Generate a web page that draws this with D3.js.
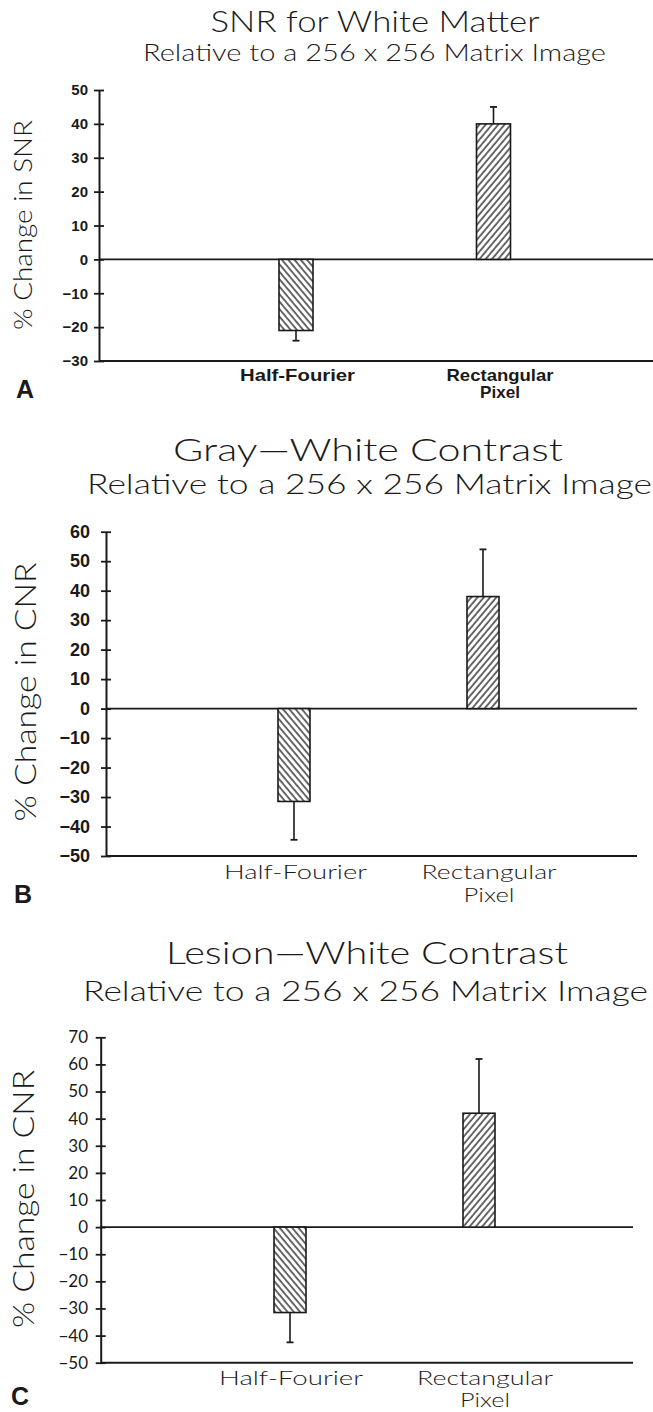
<!DOCTYPE html>
<html>
<head>
<meta charset="utf-8">
<script src="https://cdn.jsdelivr.net/npm/d3@7"></script>
<style>
  body { margin: 0; background: #fff; }
  svg { display: block; }
</style>
</head>
<body>
<script>
'use strict';

(function() {

  // categories shared by the three panels
  const categories = ["Half-Fourier", "Rectangular Pixel"];

  // panel titles
  const titles = ["SNR for White Matter", "Gray\u2014White Contrast", "Lesion\u2014White Contrast"];
  const subtitle = "Relative to a 256 x 256 Matrix Image";
  const yLabels = ["% Change in SNR", "% Change in CNR", "% Change in CNR"];
  const letters = ["A", "B", "C"];

  // bar values (% change) and error bars
  const snrValues = [-21, 40];
  const snrErrors = [3, 5];
  const grayValues = [-31.5, 38];
  const grayErrors = [13, 16];
  const lesionValues = [-31.5, 42];
  const lesionErrors = [11, 20];

  // tick labels on each y axis
  const snrTicks = [-30, -20, -10, 0, 10, 20, 30, 40, 50];
  const grayTicks = [-50, -40, -30, -20, -10, 0, 10, 20, 30, 40, 50, 60];
  const lesionTicks = [-50, -40, -30, -20, -10, 0, 10, 20, 30, 40, 50, 60, 70];

  const titleFont = "Lato, 'DejaVu Sans', sans-serif";
  const boldFont = "'Liberation Sans', Arial, sans-serif";

  // page layout for each panel (positions only, no data)
  const layouts = [
    { top: 90, bottom: 361, left: 99, right: 653, xs: [296, 493.5], barWidth: 34,
      title: { cx: 375, y: 31.7, size: 29, len: 329 },
      sub: { cx: 374.5, y: 60.7, size: 24, len: 463 },
      tick: { size: 15, bold: true, gap: 11 },
      cat: { size: 17, bold: true, y: 381, y2: 398, lens: [115, 107, 40], dx: [1.5, 6.5] },
      ylab: { x: 32, cy: 225, size: 26, len: 210 },
      letter: { x: 16, y: 398 } },
    { top: 531.7, bottom: 856, left: 106, right: 637, xs: [294, 483], barWidth: 32,
      title: { cx: 368, y: 461, size: 32, len: 390 },
      sub: { cx: 369.5, y: 494, size: 28, len: 565 },
      tick: { size: 18, bold: true, gap: 16 },
      cat: { size: 20, bold: false, y: 878.5, y2: 901.5, lens: [143, 135, 51], dx: [1.5, 6] },
      ylab: { x: 36, cy: 692, size: 29, len: 259 },
      letter: { x: 14, y: 903 } },
    { top: 1037.3, bottom: 1362.7, left: 100.7, right: 633, xs: [290, 479], barWidth: 32,
      title: { cx: 367, y: 964, size: 31, len: 402 },
      sub: { cx: 365.5, y: 1000.7, size: 27, len: 565 },
      tick: { size: 17, bold: false, gap: 12.7 },
      cat: { size: 19, bold: false, y: 1384.5, y2: 1407, lens: [144, 136, 50], dx: [1, 6] },
      ylab: { x: 34, cy: 1199, size: 29, len: 258 },
      letter: { x: 11, y: 1405 } }
  ];

  let svgContainer = "";

  window.onload = function() {
    svgContainer = d3.select('body')
      .append('svg')
      .attr('width', 653)
      .attr('height', 1412);

    makePatterns();

    drawPanel(0, snrValues, snrErrors, snrTicks);
    drawPanel(1, grayValues, grayErrors, grayTicks);
    drawPanel(2, lesionValues, lesionErrors, lesionTicks);
  }

  // diagonal hatching: "\" for negative bar, "/" for positive bar
  function makePatterns() {
    let defs = svgContainer.append('defs');
    [['hatchBack', -40], ['hatchFwd', 40]].forEach(function(p) {
      defs.append('pattern')
        .attr('id', p[0])
        .attr('patternUnits', 'userSpaceOnUse')
        .attr('width', 4.8)
        .attr('height', 10)
        .attr('patternTransform', 'rotate(' + p[1] + ')')
        .call(function(pat) {
          pat.append('rect').attr('width', 4.8).attr('height', 10).attr('fill', '#fff');
          pat.append('line')
            .attr('x1', 1).attr('y1', 0)
            .attr('x2', 1).attr('y2', 10)
            .attr('stroke', '#1a1a1a')
            .attr('stroke-width', 1.3);
        });
    });
  }

  function fmt(d) {
    return d < 0 ? '\u2212' + Math.abs(d) : String(d);
  }

  function drawPanel(i, values, errors, ticks) {
    const L = layouts[i];
    const g = svgContainer.append('g');

    let yScale = d3.scaleLinear()
      .domain([ticks[0], ticks[ticks.length - 1]])
      .range([L.bottom, L.top]);

    let xScale = d3.scalePoint()
      .domain(categories)
      .range(L.xs);

    // titles
    g.append('text')
      .attr('x', L.title.cx)
      .attr('y', L.title.y)
      .attr('text-anchor', 'middle')
      .attr('textLength', L.title.len)
      .attr('lengthAdjust', 'spacingAndGlyphs')
      .style('font-family', titleFont)
      .style('font-weight', 300)
      .style('font-size', L.title.size + 'px')
      .attr('fill', '#1a1a1a')
      .text(titles[i]);

    g.append('text')
      .attr('x', L.sub.cx)
      .attr('y', L.sub.y)
      .attr('text-anchor', 'middle')
      .attr('textLength', L.sub.len)
      .attr('lengthAdjust', 'spacingAndGlyphs')
      .style('font-family', titleFont)
      .style('font-weight', 300)
      .style('font-size', L.sub.size + 'px')
      .attr('fill', '#1a1a1a')
      .text(subtitle);

    // y axis with ticks crossing the line
    let yAxis = d3.axisLeft(yScale)
      .tickValues(ticks)
      .tickSize(5)
      .tickSizeOuter(0)
      .tickPadding(L.tick.gap - 5)
      .tickFormat(fmt);

    let axisG = g.append('g')
      .attr('transform', 'translate(' + L.left + ',0)')
      .call(yAxis);
    axisG.select('.domain').attr('stroke', '#1a1a1a').attr('stroke-width', 2);
    axisG.selectAll('.tick line')
      .attr('x1', 5)
      .attr('stroke', '#1a1a1a')
      .attr('stroke-width', 1.8);
    axisG.selectAll('.tick text')
      .attr('fill', '#1a1a1a')
      .style('font-family', L.tick.bold ? boldFont : titleFont)
      .style('font-weight', L.tick.bold ? 'bold' : 'normal')
      .style('font-size', L.tick.size + 'px');

    // bottom axis line and zero line
    g.append('line')
      .attr('x1', L.left).attr('x2', L.right)
      .attr('y1', yScale(ticks[0])).attr('y2', yScale(ticks[0]))
      .attr('stroke', '#1a1a1a').attr('stroke-width', 2);
    g.append('line')
      .attr('x1', L.left).attr('x2', L.right)
      .attr('y1', yScale(0)).attr('y2', yScale(0))
      .attr('stroke', '#1a1a1a').attr('stroke-width', 1.6);

    // bars
    g.selectAll('.bar')
      .data(values)
      .enter()
      .append('rect')
        .attr('x', function(d, j) { return xScale(categories[j]) - L.barWidth / 2; })
        .attr('y', function(d) { return yScale(Math.max(0, d)); })
        .attr('width', L.barWidth)
        .attr('height', function(d) { return Math.abs(yScale(d) - yScale(0)); })
        .attr('fill', function(d) { return d < 0 ? 'url(#hatchBack)' : 'url(#hatchFwd)'; })
        .attr('stroke', '#1a1a1a')
        .attr('stroke-width', 1.6);

    // error bars away from zero
    values.forEach(function(v, j) {
      let cx = xScale(categories[j]);
      let end = v < 0 ? v - errors[j] : v + errors[j];
      g.append('line')
        .attr('x1', cx).attr('x2', cx)
        .attr('y1', yScale(v)).attr('y2', yScale(end))
        .attr('stroke', '#1a1a1a').attr('stroke-width', 1.6);
      g.append('line')
        .attr('x1', cx - 3.5).attr('x2', cx + 3.5)
        .attr('y1', yScale(end)).attr('y2', yScale(end))
        .attr('stroke', '#1a1a1a').attr('stroke-width', 1.8);
    });

    // category labels, second word on its own line for "Rectangular Pixel"
    categories.forEach(function(c, j) {
      let words = c === "Rectangular Pixel" ? ["Rectangular", "Pixel"] : [c];
      words.forEach(function(w, k) {
        g.append('text')
          .attr('x', xScale(c) + L.cat.dx[j])
          .attr('y', k === 0 ? L.cat.y : L.cat.y2)
          .attr('text-anchor', 'middle')
          .attr('textLength', L.cat.lens[j + k])
          .attr('lengthAdjust', 'spacingAndGlyphs')
          .style('font-family', L.cat.bold ? boldFont : titleFont)
          .style('font-weight', L.cat.bold ? 'bold' : 300)
          .style('font-size', L.cat.size + 'px')
          .attr('fill', '#1a1a1a')
          .text(w);
      });
    });

    // y axis label
    g.append('text')
      .attr('transform', 'translate(' + L.ylab.x + ',' + L.ylab.cy + ')rotate(-90)')
      .attr('text-anchor', 'middle')
      .attr('textLength', L.ylab.len)
      .attr('lengthAdjust', 'spacingAndGlyphs')
      .style('font-family', titleFont)
      .style('font-weight', 300)
      .style('font-size', L.ylab.size + 'px')
      .attr('fill', '#1a1a1a')
      .text(yLabels[i]);

    // panel letter
    g.append('text')
      .attr('x', L.letter.x)
      .attr('y', L.letter.y)
      .style('font-family', boldFont)
      .style('font-weight', 'bold')
      .style('font-size', '25px')
      .attr('fill', '#1a1a1a')
      .text(letters[i]);
  }

})();
</script>
</body>
</html>
